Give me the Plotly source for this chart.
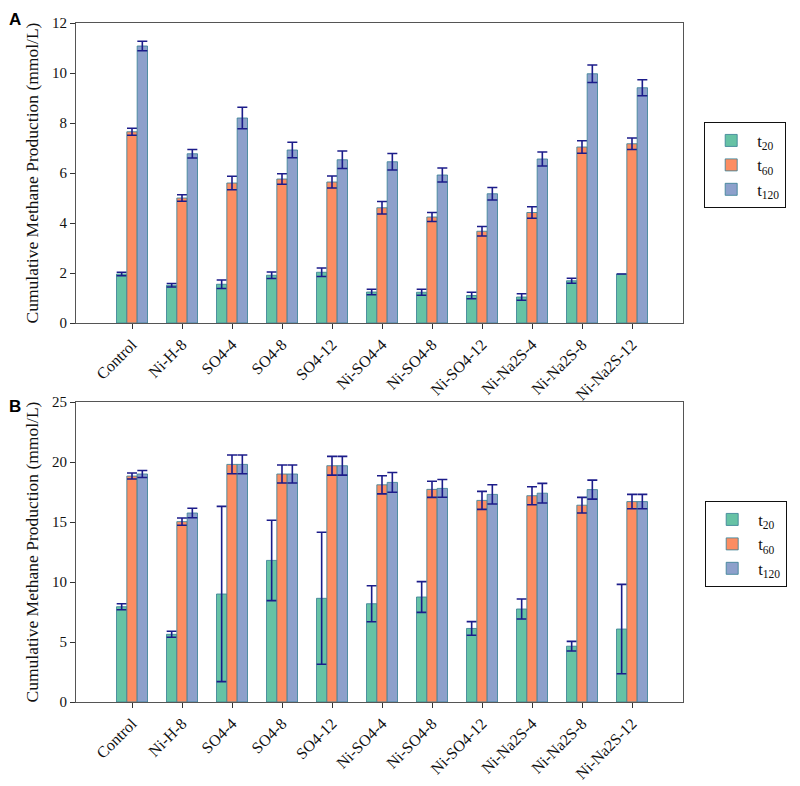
import plotly.graph_objects as go

categories = ["Control", "Ni-H-8", "SO4-4", "SO4-8", "SO4-12", "Ni-SO4-4",
              "Ni-SO4-8", "Ni-SO4-12", "Ni-Na2S-4", "Ni-Na2S-8", "Ni-Na2S-12"]

# Panel A (mmol/L)
a_t20 = [1.96, 1.51, 1.55, 1.91, 2.03, 1.24, 1.23, 1.10, 1.04, 1.69, 1.96]
a_t20_err = [0.07, 0.07, 0.17, 0.13, 0.17, 0.11, 0.12, 0.13, 0.13, 0.10, 0.0]
a_t60 = [7.65, 5.00, 5.60, 5.76, 5.64, 4.61, 4.24, 3.67, 4.42, 7.04, 7.17]
a_t60_err = [0.14, 0.13, 0.27, 0.21, 0.24, 0.25, 0.18, 0.19, 0.23, 0.25, 0.23]
a_t120 = [11.08, 6.77, 8.20, 6.92, 6.53, 6.45, 5.92, 5.17, 6.56, 9.97, 9.41]
a_t120_err = [0.19, 0.17, 0.43, 0.31, 0.35, 0.33, 0.28, 0.25, 0.28, 0.35, 0.32]

# Panel B (mmol/L)
b_t20 = [7.94, 5.64, 9.0, 11.8, 8.64, 8.19, 8.75, 6.13, 7.75, 4.65, 6.08]
b_t20_err = [0.25, 0.25, 7.3, 3.35, 5.5, 1.5, 1.28, 0.57, 0.83, 0.40, 3.72]
b_t60 = [18.83, 15.03, 19.8, 19.0, 19.69, 18.1, 17.72, 16.8, 17.19, 16.4, 16.7]
b_t60_err = [0.25, 0.30, 0.78, 0.75, 0.78, 0.76, 0.67, 0.75, 0.75, 0.65, 0.60]
b_t120 = [19.0, 15.75, 19.8, 19.0, 19.69, 18.3, 17.8, 17.3, 17.4, 17.7, 16.7]
b_t120_err = [0.29, 0.39, 0.78, 0.75, 0.78, 0.82, 0.74, 0.80, 0.82, 0.79, 0.60]

series_names = ["t<sub>20</sub>", "t<sub>60</sub>", "t<sub>120</sub>"]
colors = ["#66c2a5", "#fc8d62", "#8da0cb"]
outline = "rgba(60,130,150,0.85)"
err_color = "#1c1c8a"
serif = "Liberation Serif, Times New Roman, serif"

# page offset (browser body margin) compensation
OFF = 8
W, H = 800 - OFF, 786 - OFF


def fx(px):
    return (px - OFF) / W


def fy(py):
    return 1 - (py - OFF) / H


fig = go.Figure()

panels = [
    ("x", "y", "legend", [a_t20, a_t60, a_t120], [a_t20_err, a_t60_err, a_t120_err]),
    ("x2", "y2", "legend2", [b_t20, b_t60, b_t120], [b_t20_err, b_t60_err, b_t120_err]),
]

for xa, ya, leg, vals, errs in panels:
    for name, col, v, e in zip(series_names, colors, vals, errs):
        fig.add_trace(go.Bar(
            x=categories, y=v, name=name, xaxis=xa, yaxis=ya, legend=leg,
            marker=dict(color=col, line=dict(color=outline, width=1)),
            error_y=dict(type="data", array=e, visible=True, color=err_color,
                         thickness=1.6, width=5),
        ))

xdom = [fx(76), fx(683)]
ydomA = [fy(323), fy(23)]
ydomB = [fy(702), fy(402)]

axis_common = dict(showline=True, linecolor="#555555", linewidth=1.2, mirror=True,
                   ticks="outside", ticklen=5, tickcolor="#333333",
                   showgrid=False, zeroline=False, automargin=False,
                   tickfont=dict(family=serif, size=15, color="#111111"))
xfont = dict(family=serif, size=16, color="#111111")
ytitle = dict(text="Cumulative Methane Production (mmol/L)",
              font=dict(family=serif, size=17.5, color="#111111"), standoff=8)
legfont = dict(family=serif, size=16.5, color="#111111")

fig.update_layout(
    width=W, height=H,
    margin=dict(l=0, r=0, t=0, b=0),
    paper_bgcolor="white", plot_bgcolor="white",
    barmode="group", bargap=0.38, bargroupgap=0,
    showlegend=True,
    xaxis=dict(domain=xdom, anchor="y", range=[-1.12, 11.02], tickangle=-45, **axis_common),
    yaxis=dict(domain=ydomA, anchor="x", range=[0, 12], dtick=2, title=ytitle, **axis_common),
    xaxis2=dict(domain=xdom, anchor="y2", range=[-1.12, 11.02], tickangle=-45, **axis_common),
    yaxis2=dict(domain=ydomB, anchor="x2", range=[0, 25], dtick=5, title=ytitle, **axis_common),
    legend=dict(x=fx(704), y=fy(122), xanchor="left", yanchor="top",
                bordercolor="#111111", borderwidth=1.2, bgcolor="white",
                font=legfont, itemwidth=42),
    legend2=dict(x=fx(705), y=fy(501), xanchor="left", yanchor="top",
                 bordercolor="#111111", borderwidth=1.2, bgcolor="white",
                 font=legfont, itemwidth=42),
    annotations=[
        dict(text="<b>A</b>", x=fx(7), y=fy(8), xref="paper", yref="paper",
             xanchor="left", yanchor="top", showarrow=False,
             font=dict(family="Liberation Sans, Arial, sans-serif", size=17, color="black")),
        dict(text="<b>B</b>", x=fx(7), y=fy(395), xref="paper", yref="paper",
             xanchor="left", yanchor="top", showarrow=False,
             font=dict(family="Liberation Sans, Arial, sans-serif", size=17, color="black")),
    ],
)
fig.update_xaxes(tickfont=xfont)

fig.write_html("out.html")
